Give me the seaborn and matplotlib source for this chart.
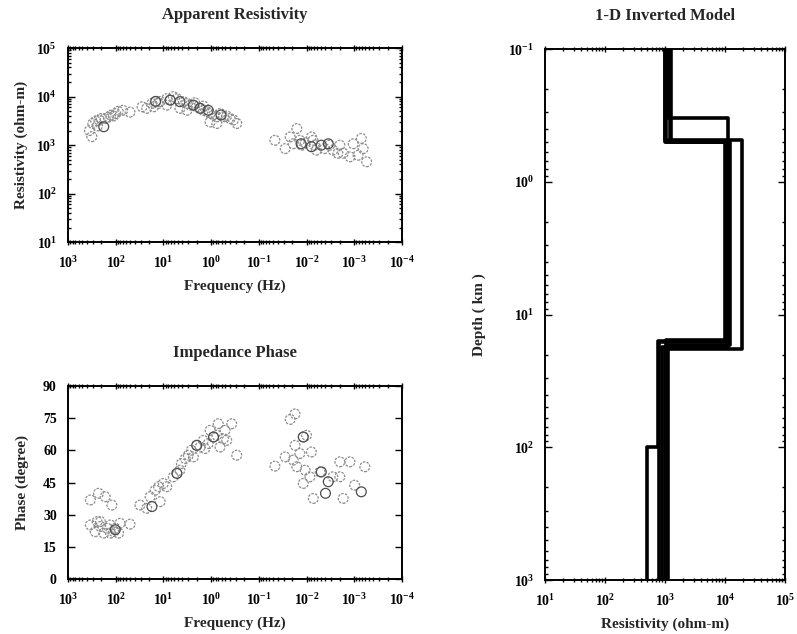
import numpy as np
import pandas as pd
import matplotlib
matplotlib.use("Agg")
import matplotlib.pyplot as plt
import seaborn as sns
from matplotlib.ticker import LogLocator, FuncFormatter, MultipleLocator, NullFormatter

# ---------------- data ----------------
# Apparent resistivity (gray circles)
res_freq = [355, 316, 302, 263, 240, 224, 200, 166, 141, 126, 112, 100, 89, 71, 50,
            28, 22.4, 17.4, 14.8, 11.7, 8.5, 7.2, 6.2, 5.2, 3.8, 3.2, 2.75, 2.0, 1.7,
            1.45, 1.23, 1.05, 0.89, 0.76, 0.55, 0.47, 0.40, 0.34, 0.29,
            8.5, 4.5, 3.2, 1.05, 0.76, 16, 12.8, 2.2, 1.45, 0.65,
            0.046, 0.028, 0.022, 0.016, 0.0138, 0.0126, 0.0107, 0.0079, 0.0068,
            0.0042, 0.0033, 0.0028, 0.002, 0.0017, 0.00123, 0.00105, 0.00083,
            0.00071, 0.00065, 0.00055, 0.019, 0.0062, 0.0022, 0.0073]
res_rho = [2000, 1500, 2800, 3160, 2500, 3300, 3550, 3550, 3800, 4170, 4000, 4470, 5000, 5250, 4800,
           6200, 5750, 7250, 7950, 7950, 9100, 8500, 10000, 9100, 7900, 7250, 6700, 6200, 5750,
           5250, 4900, 4500, 4200, 3850, 3850, 4000, 3550, 3300, 2800,
           6700, 5750, 5250, 3000, 2800, 6200, 7250, 7500, 6400, 4500,
           1260, 850, 1480, 2200, 1260, 1000, 1120, 1480, 1000,
           850, 1000, 790, 1000, 680, 575, 1070, 620,
           1380, 850, 455, 1070, 790, 680, 1260]
# Apparent resistivity (dark circles)
res_freq_d = [178, 14.5, 7.2, 4.5, 2.35, 1.7, 1.15, 0.62, 0.013, 0.0079, 0.0049, 0.0035]
res_rho_d = [2400, 8000, 8500, 7900, 6700, 5750, 5250, 4200, 1070, 930, 1000, 1070]

# Impedance phase (gray circles)
ph_freq = [339, 229, 166, 120, 339, 269, 245, 209, 178, 151, 129, 110, 102, 87, 81, 50, 209, 129,
           31, 22.4, 19, 14.8, 12.6, 11.7, 10, 8.5, 6.2, 5.2, 4.5, 4.2, 3.5, 3.0, 2.6, 2.35,
           2.0, 1.7, 1.45, 1.35, 1.15, 1.05, 0.89, 0.76, 0.71, 0.65, 0.55, 0.51, 0.47, 0.37, 0.29,
           0.046, 0.028, 0.022, 0.0174, 0.019, 0.0174, 0.016, 0.0138, 0.0117, 0.010, 0.0117,
           0.0107, 0.0085, 0.0079, 0.0072, 0.0052, 0.0028, 0.0020, 0.0020, 0.0017, 0.00123,
           0.00098, 0.0006]
ph_deg = [36.9, 40.0, 38.4, 34.5, 25.2, 22.1, 26.8, 24.5, 21.4, 23.7, 25.2, 22.1, 23.7, 21.4, 26.0, 25.6, 26.8, 21.4,
          34.5, 33.0, 38.4, 41.5, 43.1, 36.1, 44.6, 43.1, 47.7, 49.3, 50.8, 53.9, 56.2, 57.8, 60.1, 57.0,
          62.4, 61.6, 64.7, 60.9, 63.2, 69.4, 66.3, 67.1, 72.5, 61.6, 65.5, 69.4, 64.7, 72.5, 57.8,
          52.7, 57.0, 74.5, 77.1, 55.5, 62.4, 52.4, 58.6, 66.3, 67.1, 44.6,
          50.8, 47.7, 59.3, 37.6, 50.0, 47.7, 47.7, 54.7, 37.6, 54.7,
          43.8, 52.4]
# Impedance phase (dark circles)
ph_freq_d = [17.4, 102, 5.2, 2.0, 0.89, 0.0049, 0.0035, 0.0040, 0.00071, 0.0117]
ph_deg_d = [33.8, 23.0, 49.3, 62.4, 66.3, 50.0, 45.4, 40.0, 40.7, 66.3]

# 1-D inverted models: layer interface depths (km) and layer resistivities (ohm-m)
model_depths = [[0.33, 15.5], [0.48, 18.0], [0.50, 16.0], [0.50, 17.0], [0.50, 15.8, 100.0], [0.49, 17.5]]
model_rhos = [[1100, 11000, 1050], [1000, 19000, 1000], [1250, 10500, 780],
              [1050, 12000, 1130], [1000, 10000, 760, 500], [1200, 11000, 900]]
depth_top, depth_bottom = 0.1, 1000.0

# ---------------- style ----------------
sns.set_theme(style="white")
plt.rcParams["font.family"] = ["Liberation Serif", "DejaVu Serif"]
plt.rcParams["mathtext.fontset"] = "custom"
plt.rcParams["mathtext.rm"] = "Liberation Serif:bold"
plt.rcParams["mathtext.bf"] = "Liberation Serif:bold"
plt.rcParams["mathtext.default"] = "bf"

fig = plt.figure(figsize=(7.97, 6.34), dpi=100)
ax1 = fig.add_axes([0.0853, 0.618, 0.419, 0.306])
ax2 = fig.add_axes([0.0853, 0.0868, 0.419, 0.304])
ax3 = fig.add_axes([0.684, 0.085, 0.301, 0.8375])

pow_fmt = FuncFormatter(lambda v, p: r"$10^{%d}$" % int(round(np.log10(v))) if v > 0 else "")


def circles(ax, x, y, color, ls):
    df = pd.DataFrame({"x": x, "y": y})
    sns.scatterplot(data=df, x="x", y="y", ax=ax, marker="o", s=50, color=color,
                    linewidth=0.9, legend=False)
    coll = ax.collections[-1]
    coll.set_facecolor("none")
    coll.set_edgecolor(color)
    coll.set_linestyle(ls)


def style_axes(ax):
    for s in ax.spines.values():
        s.set_color("black")
        s.set_linewidth(1.4)
    ax.tick_params(which="both", colors="black", labelsize=10, width=1.0,
                   top=True, right=True, bottom=True, left=True)
    ax.tick_params(which="major", length=5)
    ax.tick_params(which="minor", length=2.5)
    ax.tick_params(axis="x", which="both", direction="inout", pad=7)
    ax.tick_params(axis="y", which="both", direction="in", pad=8)
    for lab in ax.get_xticklabels() + ax.get_yticklabels():
        lab.set_fontweight("bold")


def freq_axis(ax):
    ax.set_xscale("log")
    ax.set_xlim(1e3, 1e-4)
    ax.xaxis.set_major_locator(LogLocator(base=10, numticks=20))
    ax.xaxis.set_minor_locator(LogLocator(base=10, subs=np.arange(2, 10), numticks=20))
    ax.xaxis.set_major_formatter(pow_fmt)
    ax.xaxis.set_minor_formatter(NullFormatter())
    ax.set_xlabel("Frequency (Hz)", fontsize=11, fontweight="bold", labelpad=6)


# ---- Apparent resistivity ----
circles(ax1, res_freq, res_rho, "0.55", (0, (2, 1)))
circles(ax1, res_freq_d, res_rho_d, "0.3", "solid")
freq_axis(ax1)
ax1.set_yscale("log")
ax1.set_ylim(1e1, 1e5)
ax1.yaxis.set_major_locator(LogLocator(base=10, numticks=10))
ax1.yaxis.set_minor_locator(LogLocator(base=10, subs=np.arange(2, 10), numticks=10))
ax1.yaxis.set_major_formatter(pow_fmt)
ax1.yaxis.set_minor_formatter(NullFormatter())
ax1.set_ylabel("Resistivity (ohm-m)", fontsize=11, fontweight="bold", labelpad=6)
ax1.set_title("Apparent Resistivity", fontsize=12, fontweight="bold", pad=21)
style_axes(ax1)

# ---- Impedance phase ----
circles(ax2, ph_freq, ph_deg, "0.55", (0, (2, 1)))
circles(ax2, ph_freq_d, ph_deg_d, "0.3", "solid")
freq_axis(ax2)
ax2.set_ylim(0, 90)
ax2.yaxis.set_major_locator(MultipleLocator(15))
ax2.set_ylabel("Phase (degree)", fontsize=11, fontweight="bold", labelpad=10)
ax2.set_title("Impedance Phase", fontsize=12, fontweight="bold", pad=21)
style_axes(ax2)

# ---- 1-D inverted model ----
rows = []
for m, (dep, rho) in enumerate(zip(model_depths, model_rhos)):
    bounds = [depth_top] + list(dep) + [depth_bottom]
    for i, r in enumerate(rho):
        rows.append({"model": m, "rho": r, "depth": bounds[i]})
        rows.append({"model": m, "rho": r, "depth": bounds[i + 1]})
mdf = pd.DataFrame(rows)
sns.lineplot(data=mdf, x="rho", y="depth", units="model", estimator=None, sort=False,
             color="black", linewidth=2.6, ax=ax3, legend=False)
ax3.set_xscale("log")
ax3.set_yscale("log")
ax3.set_xlim(1e1, 1e5)
ax3.set_ylim(depth_bottom, depth_top)
for axis in (ax3.xaxis, ax3.yaxis):
    axis.set_major_locator(LogLocator(base=10, numticks=10))
    axis.set_minor_locator(LogLocator(base=10, subs=np.arange(2, 10), numticks=10))
    axis.set_major_formatter(pow_fmt)
    axis.set_minor_formatter(NullFormatter())
ax3.set_xlabel("Resistivity (ohm-m)", fontsize=11, fontweight="bold", labelpad=6)
ax3.set_ylabel("Depth ( km )", fontsize=11, fontweight="bold", labelpad=16)
ax3.set_title("1-D Inverted Model", fontsize=12, fontweight="bold", pad=21)
style_axes(ax3)

fig.savefig("out.png", dpi=100)
